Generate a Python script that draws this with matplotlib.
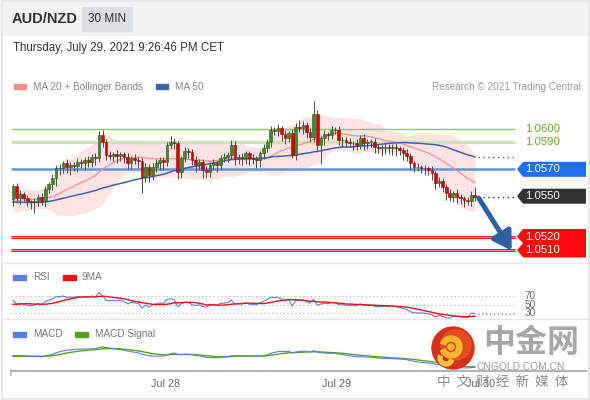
import numpy as np
import pandas as pd
import matplotlib
matplotlib.use("Agg")
import matplotlib.pyplot as plt
from matplotlib.patches import Rectangle, Polygon, Circle, Wedge

plt.rcParams['font.family'] = ['Liberation Sans', 'DejaVu Sans']

W, H = 590, 400

# closes before the visible window (only used to warm up the indicators)
prior_closes = [1.0552, 1.0549, 1.0553, 1.0556, 1.0551, 1.0548, 1.0545, 1.0547, 1.0543, 1.0540,
                1.0542, 1.0538, 1.0541, 1.0544, 1.0540, 1.0537, 1.0539, 1.0543, 1.0546, 1.0544,
                1.0548, 1.0545, 1.0541, 1.0543, 1.0547, 1.0550, 1.0546, 1.0542, 1.0544, 1.0548,
                1.0551, 1.0547, 1.0543, 1.0540, 1.0544, 1.0541, 1.0545, 1.0549, 1.0546, 1.0543,
                1.0547, 1.0552, 1.0549, 1.0545, 1.0541, 1.0544, 1.0548, 1.0551, 1.0547, 1.0548]

# 30 min closes, AUD/NZD
closes = [1.05578, 1.05489, 1.05513, 1.05487, 1.05464, 1.05455, 1.05467, 1.05496, 1.05464, 1.05554,
          1.05589, 1.05633, 1.05712, 1.05710, 1.05745, 1.05719, 1.05732, 1.05727, 1.05757, 1.05747,
          1.05769, 1.05757, 1.05794, 1.05782, 1.05955, 1.05906, 1.05807, 1.05799, 1.05812, 1.05799,
          1.05812, 1.05794, 1.05745, 1.05782, 1.05769, 1.05762, 1.05645, 1.05719, 1.05658, 1.05719,
          1.05745, 1.05769, 1.05757, 1.05881, 1.05906, 1.05894, 1.05678, 1.05782, 1.05836, 1.05831,
          1.05769, 1.05732, 1.05757, 1.05695, 1.05682, 1.05732, 1.05745, 1.05732, 1.05786, 1.05794,
          1.05807, 1.05881, 1.05782, 1.05794, 1.05782, 1.05819, 1.05782, 1.05779, 1.05769, 1.05819,
          1.05856, 1.05906, 1.05993, 1.05985, 1.06005, 1.05961, 1.05931, 1.05968, 1.05807, 1.06017,
          1.06005, 1.06030, 1.05980, 1.05943, 1.06109, 1.05881, 1.05931, 1.05961, 1.05955, 1.05993,
          1.05990, 1.05918, 1.05918, 1.05906, 1.05894, 1.05894, 1.05881, 1.05935, 1.05894, 1.05906,
          1.05906, 1.05868, 1.05861, 1.05861, 1.05868, 1.05856, 1.05868, 1.05856, 1.05844, 1.05819,
          1.05801, 1.05745, 1.05719, 1.05715, 1.05712, 1.05708, 1.05695, 1.05670, 1.05596, 1.05613,
          1.05571, 1.05522, 1.05496, 1.05522, 1.05496, 1.05484, 1.05472, 1.05464, 1.05509, 1.05496]

# wick lengths beyond the body, in pips
upper_wick_pips = [1, 2, 3, 2, 2, 1, 2, 2, 3, 2,
                   2, 3, 2, 3, 2, 3, 2, 2, 3, 2,
                   2, 3, 2, 3, 3, 4, 2, 3, 2, 3,
                   2, 2, 3, 2, 3, 2, 2, 3, 2, 3,
                   3, 2, 2, 2, 4, 3, 2, 2, 3, 2,
                   2, 3, 2, 2, 3, 2, 3, 2, 2, 3,
                   2, 4, 3, 2, 3, 2, 2, 3, 2, 2,
                   3, 2, 3, 2, 3, 2, 3, 2, 3, 3,
                   5, 3, 2, 3, 10, 3, 2, 3, 2, 3,
                   2, 3, 2, 2, 3, 2, 3, 2, 3, 2,
                   2, 3, 2, 2, 3, 2, 2, 3, 2, 2,
                   3, 2, 2, 3, 2, 2, 2, 3, 2, 3,
                   2, 2, 3, 2, 3, 2, 2, 2, 3, 6]
lower_wick_pips = [5, 4, 5, 3, 4, 5, 8, 4, 3, 4,
                   3, 4, 6, 5, 4, 5, 6, 4, 5, 4,
                   5, 4, 4, 5, 3, 4, 4, 3, 4, 5,
                   4, 5, 4, 4, 3, 5, 12, 4, 5, 4,
                   4, 5, 6, 3, 3, 4, 5, 4, 3, 5,
                   4, 5, 4, 6, 5, 4, 4, 5, 4, 3,
                   4, 3, 5, 4, 5, 4, 5, 4, 6, 5,
                   4, 3, 4, 3, 4, 5, 4, 3, 2, 4,
                   3, 4, 5, 4, 4, 4, 14, 5, 4, 3,
                   3, 4, 5, 4, 3, 5, 4, 3, 5, 4,
                   4, 5, 4, 6, 5, 4, 5, 6, 4, 5,
                   4, 5, 4, 3, 4, 5, 4, 5, 4, 3,
                   4, 5, 3, 4, 5, 4, 5, 3, 4, 3]

day_labels = ["Jul 28", "Jul 29", "Jul 30"]
day_index = [42.5, 90.5, 130.5]

resistances = [1.0600, 1.0590]
pivot = 1.0570
supports = [1.0520, 1.0510]
rsi_levels = [70, 50, 30]

# ---- indicators
allc = pd.Series(prior_closes + closes)
n0 = len(prior_closes)
ma20 = allc.rolling(20).mean()
sd20 = allc.rolling(20).std(ddof=0)
ma50 = allc.rolling(50, min_periods=1).mean()
d = allc.diff()
gain = d.clip(lower=0).ewm(alpha=1 / 14, adjust=False).mean()
loss = (-d.clip(upper=0)).ewm(alpha=1 / 14, adjust=False).mean()
rsi = 100 - 100 / (1 + gain / loss)
rsi9 = rsi.rolling(9).mean()
macd = allc.ewm(span=12, adjust=False).mean() - allc.ewm(span=26, adjust=False).mean()
signal = macd.ewm(span=9, adjust=False).mean()

vis = slice(n0, None)
x = np.arange(len(closes))
c = np.array(closes)
o = np.array([prior_closes[-1]] + closes[:-1])
hi = np.maximum(o, c) + np.array(upper_wick_pips) * 1e-4
lo = np.minimum(o, c) - np.array(lower_wick_pips) * 1e-4

# ---- layout helpers (pixel boxes)
fig = plt.figure(figsize=(W / 100, H / 100), dpi=100)


def axes_px(x0, y0, x1, y1, **kw):
    return fig.add_axes([x0 / W, 1 - y1 / H, (x1 - x0) / W, (y1 - y0) / H], **kw)


STEP = 3.58
X0PX = 13
xl = ((11 - X0PX) / STEP, (586 - X0PX) / STEP)
xend = (515 - X0PX) / STEP

ov = axes_px(0, 0, W, H, zorder=10)
ov.set_xlim(0, W)
ov.set_ylim(H, 0)
ov.axis('off')
ov.patch.set_alpha(0)

ax = axes_px(11, 95, 586, 262)
ax.set_xlim(*xl)
ax.set_ylim(1.0600 - 133 / 13440, 1.0600 + 34 / 13440)
ax.axis('off')


def to_px(a, xv, yv):
    dx, dy = a.transData.transform((xv, yv))
    return dx, H - dy


# frame, header
ov.add_patch(Rectangle((0, 0), W, 35, color='#f3f3f3', zorder=0))
ov.add_patch(Rectangle((1.5, 0.5), W - 3, H - 2, fill=False, edgecolor='#e3e5e8', lw=1.2))
ov.text(12, 19, "AUD/NZD", fontsize=10.5, fontweight='bold', color='#333333', va='center')
ov.add_patch(Rectangle((82, 7), 50, 24, color='#dcdfe4'))
ov.text(107, 19, "30 MIN", fontsize=8.5, color='#333333', va='center', ha='center')
ov.text(13, 48, "Thursday, July 29, 2021 9:26:46 PM CET", fontsize=8.3, color='#333333', va='center')
ov.plot([3, 587], [262.5, 262.5], color='#e6e6e6', lw=1)
ov.plot([3, 587], [319, 319], color='#e6e6e6', lw=1)

# legends
ov.add_patch(Rectangle((14, 84), 12, 4.5, color='#f78a8a'))
ov.text(33, 86.5, "MA 20 + Bollinger Bands", fontsize=7.2, color='#888888', va='center')
ov.add_patch(Rectangle((156, 84), 12, 4.5, color='#3d63a6'))
ov.text(175, 86.5, "MA 50", fontsize=7.2, color='#888888', va='center')
ov.text(581, 86.5, "Research \u00a9 2021 Trading Central", fontsize=7.2, color='#9a9a9a', va='center', ha='right')
ov.add_patch(Rectangle((13, 275), 13, 4.5, color='#5b7fe0'))
ov.text(33, 277.5, "RSI", fontsize=7.2, color='#777777', va='center')
ov.add_patch(Rectangle((63, 275), 13, 4.5, color='#ee1111'))
ov.text(82, 277.5, "9MA", fontsize=7.2, color='#777777', va='center')
ov.add_patch(Rectangle((13, 332), 13, 4.5, color='#5b7fe0'))
ov.text(33, 334, "MACD", fontsize=7.2, color='#777777', va='center')
ov.add_patch(Rectangle((75, 332), 13, 4.5, color='#5aa020'))
ov.text(95, 334, "MACD Signal", fontsize=7.2, color='#777777', va='center')

# ---- price panel
ax.fill_between(x, (ma20 - 2 * sd20)[vis], (ma20 + 2 * sd20)[vis], color='#fde3e3', lw=0, zorder=1)
ax.hlines(resistances[0], xl[0], xend, color='#8cc864', lw=1.0, zorder=2)
ax.hlines(resistances[1], xl[0], xend, color='#cfe3b8', lw=2.4, zorder=2)
ax.hlines(pivot, xl[0], xend, color='#6393f2', lw=1.8, zorder=2)
for s in supports:
    ax.hlines(s, xl[0], xend, color='#ff1010', lw=2.2, zorder=2)
    ax.hlines(s, xl[0], xend, color='#ffc4c4', lw=0.5, zorder=2)
ax.plot(x, ma20[vis], color='#f58f8f', lw=0.9, zorder=3)
ax.plot(x, ma50[vis], color='#3d63a6', lw=1.1, zorder=3)
ax.vlines(x, lo, hi, color='#4a4a4a', lw=0.7, zorder=4)
up = c >= o
body_h = np.maximum(np.abs(c - o), 3e-5)
ax.bar(x[up], body_h[up], bottom=np.minimum(o, c)[up], width=0.75, color='#3a8a26', edgecolor='#24561a', lw=0.4, zorder=5)
ax.bar(x[~up], body_h[~up], bottom=np.minimum(o, c)[~up], width=0.75, color='#d60000', edgecolor='#7a1010', lw=0.4, zorder=5)

last = len(closes) - 1
ax.hlines(ma50.iloc[-1], last + 1, xend, color='#3d63a6', lw=1, linestyles=(0, (1, 2.5)), zorder=3)
ax.hlines(c[-1], last + 1, xend, color='#333333', lw=1, linestyles=(0, (1, 2.5)), zorder=3)
ax.annotate('', xy=(139.3, supports[1] - 0.00005), xytext=(last + 1.1, c[-1] - 0.0001),
            arrowprops=dict(arrowstyle='-|>,head_length=0.9,head_width=0.55', lw=3.6,
                            color='#2f5f9e', mutation_scale=12, shrinkA=0, shrinkB=0), zorder=6)


def tag_poly(yc_list, color):
    top = yc_list[0] - 7.5
    bot = yc_list[-1] + 7.5
    pts = [(523, top), (586, top), (586, bot), (523, bot)]
    for k in range(len(yc_list) - 1, -1, -1):
        pts.append((517, yc_list[k]))
        if k > 0:
            pts.append((523, (yc_list[k] + yc_list[k - 1]) / 2))
    ov.add_patch(Polygon(pts, closed=True, color=color, lw=0))


for lvl in resistances:
    _, yp = to_px(ax, 0, lvl)
    ov.text(525, yp, f"{lvl:.4f}", fontsize=8.2, color='#62a82c', va='center')
_, yp = to_px(ax, 0, pivot)
tag_poly([yp], '#1f6ff2')
ov.text(525, yp, f"{pivot:.4f}", fontsize=8.2, color='white', va='center')
_, yp = to_px(ax, 0, round(c[-1], 4))
tag_poly([yp], '#333333')
ov.text(525, yp, f"{round(c[-1], 4):.4f}", fontsize=8.2, color='white', va='center')
sup_px = [to_px(ax, 0, s)[1] for s in supports]
tag_poly(sup_px, '#ff0a0a')
for s, yp in zip(supports, sup_px):
    ov.text(525, yp, f"{s:.4f}", fontsize=8.2, color='white', va='center')

# ---- RSI panel
ar = axes_px(11, 263, 586, 319)
ar.set_xlim(*xl)
ar.set_ylim(30 - 6 / 0.425, 70 + 33 / 0.425)
ar.axis('off')
ar.hlines(rsi_levels, xl[0], xend, color='#b5b5b5', lw=0.8, linestyles=(0, (1, 2.5)))
ar.plot(x, rsi[vis], color='#5b7fe0', lw=0.8)
ar.plot(x, rsi9[vis], color='#ee1111', lw=1.0)
ar.hlines(rsi.iloc[-1], last + 1, xend, color='#5b7fe0', lw=0.8, linestyles=(0, (1, 2.5)))
for lv in rsi_levels:
    _, yp = to_px(ar, 0, lv)
    ov.text(525, yp, str(lv), fontsize=7.2, color='#666666', va='center')

# ---- MACD panel
am = axes_px(11, 320, 586, 371)
am.set_xlim(*xl)
mv, sv = macd[vis], signal[vis]
mlo = min(mv.min(), sv.min())
mhi = max(mv.max(), sv.max())
s_px = (mhi - mlo) / 21
am.set_ylim(mlo - 3 * s_px, mhi + 27 * s_px)
am.plot(x, sv, color='#5aa020', lw=1.0)
am.plot(x, mv, color='#5b7fe0', lw=0.8)
for side in ('top', 'left', 'right'):
    am.spines[side].set_visible(False)
am.spines['bottom'].set_color('#b3b3b3')
am.spines['bottom'].set_linewidth(1.5)
am.set_yticks([])
am.set_xticks(day_index, day_labels)
am.tick_params(axis='x', length=0, pad=5.5, labelsize=7.8, labelcolor='#666666')
am.patch.set_alpha(0)
ov.plot([11, 11], [370, 375], color='#b3b3b3', lw=1.2)

# ---- watermark logo
ov.add_patch(Circle((453, 348), 21, color='#d6301a'))
ov.add_patch(Circle((456, 345), 15, color='#ea5a1f', alpha=0.7))
ov.add_patch(Wedge((451, 347), 11, 200, 520, width=5, color='#f7b52e'))
ov.add_patch(Wedge((446, 358), 8, 20, 200, width=4, color='#f7c343'))
ov.add_patch(Circle((451, 347), 3, color='#f7b52e'))
ov.text(531, 343, "中金网", fontsize=23, fontweight='bold', color='#a6a6a6',
        ha='center', va='center', family=['Noto Sans CJK SC'])
ov.text(521, 367, "CNGOLD.COM.CN", fontsize=7.4, color='#9a9a9a', ha='center', va='center')
ov.text(503, 382, "中  文  财  经  新  媒  体", fontsize=9.8, color='#8a8a8a',
        ha='center', va='center', family=['Noto Sans CJK SC'])

fig.savefig("out.png", dpi=100)
